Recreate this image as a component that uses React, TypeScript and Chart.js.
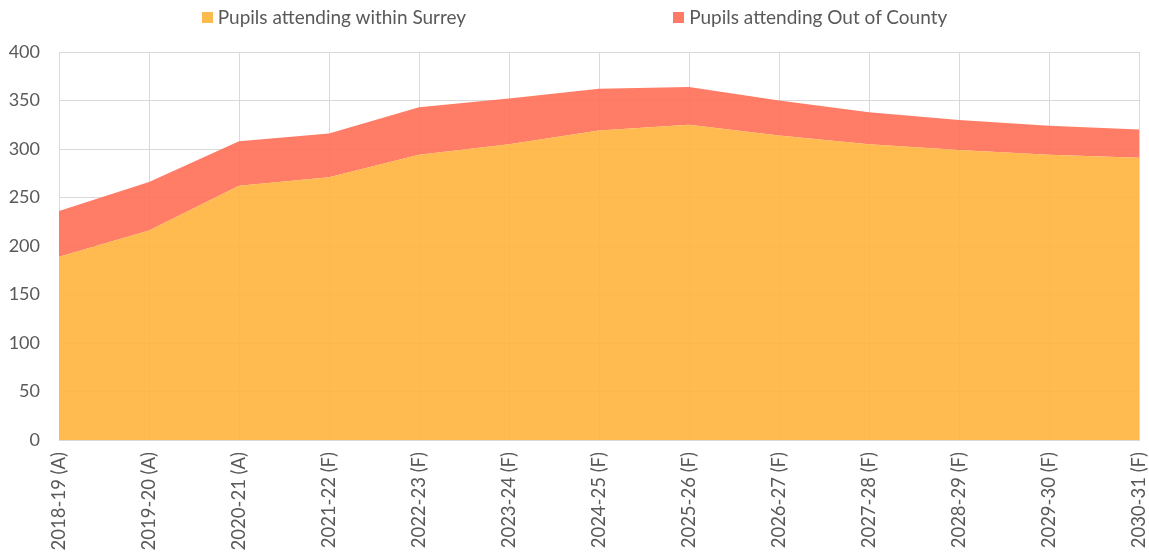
import React, { useEffect, useRef } from "react";
import { Chart, registerables } from "chart.js";

Chart.register(...registerables);

const categories = [
  "2018-19 (A)", "2019-20 (A)", "2020-21 (A)", "2021-22 (F)", "2022-23 (F)",
  "2023-24 (F)", "2024-25 (F)", "2025-26 (F)", "2026-27 (F)", "2027-28 (F)",
  "2028-29 (F)", "2029-30 (F)", "2030-31 (F)",
];
const withinSurrey = [189, 216, 262, 271, 294, 305, 319, 325, 314, 305, 299, 294, 291];
const outOfCounty = [47, 50, 46, 45, 49, 47, 43, 39, 36, 33, 31, 30, 29];
const seriesNames = ["Pupils attending within Surrey", "Pupils attending Out of County"];
const seriesColors = ["rgba(255,180,60,0.9)", "rgba(255,110,85,0.9)"];
const legendSwatch = ["#FDBA4D", "#FE7A64"];

const FONT = "Lato, 'Open Sans', sans-serif";
const GREY = "#595959";

export default function App() {
  const ref = useRef<HTMLCanvasElement>(null);
  useEffect(() => {
    if (!ref.current) return;
    const chart = new Chart(ref.current, {
      type: "line",
      data: {
        labels: categories,
        datasets: [
          {
            label: seriesNames[0],
            data: withinSurrey,
            backgroundColor: seriesColors[0],
            borderWidth: 0,
            pointRadius: 0,
            fill: "origin",
            tension: 0,
          },
          {
            label: seriesNames[1],
            data: outOfCounty,
            backgroundColor: seriesColors[1],
            borderWidth: 0,
            pointRadius: 0,
            fill: "-1",
            tension: 0,
          },
        ],
      },
      options: {
        responsive: false,
        animation: false,
        layout: { padding: { top: 52, right: 10, left: 0, bottom: 0 } },
        plugins: { legend: { display: false }, tooltip: { enabled: false } },
        scales: {
          x: {
            offset: false,
            grid: { color: "#d9d9d9", drawTicks: false },
            border: { color: "#d9d9d9" },
            ticks: {
              minRotation: 90,
              maxRotation: 90,
              padding: 12,
              color: GREY,
              font: { family: FONT, size: 18.5 },
              autoSkip: false,
            },
            afterFit: (s: any) => { s.height = 114; s.paddingRight = 0; s.paddingLeft = 0; },
          },
          y: {
            stacked: true,
            min: 0,
            max: 400,
            grid: { color: "#d9d9d9", drawTicks: false },
            border: { display: false },
            ticks: {
              stepSize: 50,
              padding: 19,
              color: GREY,
              font: { family: FONT, size: 18 },
            },
            afterFit: (s: any) => { s.width = 59; },
          },
        },
      },
    });
    return () => chart.destroy();
  }, []);

  return (
    <div style={{ position: "absolute", left: 0, top: 0, width: 1149, height: 554, background: "#fff" }}>
      <canvas ref={ref} width={1149} height={554} style={{ position: "absolute", left: 0, top: 0 }} />
      <div style={{ position: "absolute", left: 0, top: 5, width: 1149, display: "flex", justifyContent: "center", gap: 207, fontFamily: FONT, fontSize: 19, color: GREY, lineHeight: "24px" }}>
        {seriesNames.map((n, i) => (
          <div key={n} style={{ display: "flex", alignItems: "center" }}>
            <span style={{ display: "inline-block", width: 11, height: 11, background: legendSwatch[i], marginRight: 5 }} />
            <span>{n}</span>
          </div>
        ))}
      </div>
    </div>
  );
}
